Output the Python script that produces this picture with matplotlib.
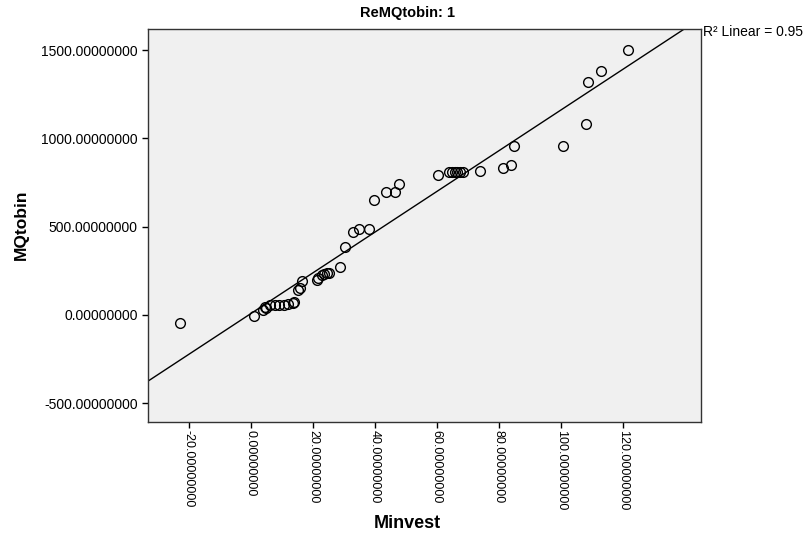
import numpy as np
import matplotlib
matplotlib.use("Agg")
import matplotlib.pyplot as plt
from matplotlib.ticker import FormatStrFormatter

plt.rcParams['font.family'] = ['Liberation Sans', 'DejaVu Sans']

# Minvest vs MQtobin
minvest = [-23.0, 1.0, 3.9, 4.5, 5.0, 6.1, 7.7, 9.0, 10.6, 11.9, 13.5, 13.9,
           15.2, 15.8, 16.5, 21.3, 21.6, 22.9, 23.5, 24.5, 25.2, 28.7, 30.3,
           32.9, 34.8, 38.0, 39.7, 43.5, 46.5, 47.8, 60.3, 63.9, 64.8, 65.8,
           66.5, 67.4, 68.3, 73.9, 81.3, 83.9, 84.8, 100.6, 108.0, 108.7,
           112.9, 121.6]
mqtobin = [-45, -6, 28, 45, 40, 57, 57, 57, 57, 60, 70, 72,
           141, 153, 192, 198, 209, 226, 232, 238, 238, 272, 385,
           470, 487, 487, 651, 696, 696, 741, 795, 809, 809, 809,
           809, 809, 809, 815, 832, 849, 956, 956, 1081, 1319,
           1381, 1500]

x_ticks = [-20, 0, 20, 40, 60, 80, 100, 120]
y_ticks = [-500, 0, 500, 1000, 1500]
r2_text = "R\u00b2 Linear = 0.95"


def main():
    fig = plt.figure(figsize=(8.06, 5.33), dpi=100)
    ax = fig.add_axes([0.1836, 0.2083, 0.686, 0.7373])
    ax.set_facecolor('#f0f0f0')

    ax.plot(minvest, mqtobin, linestyle='none', marker='o', markersize=7,
            markerfacecolor='none', markeredgecolor='black',
            markeredgewidth=1.0)

    # linear fit over the whole x range
    slope, icpt = np.polyfit(minvest, mqtobin, 1)
    xl = np.array([-40, 160])
    ax.plot(xl, icpt + slope * xl, color='black', linewidth=1.0)

    ax.set_xlim(-33.2, 145.2)
    ax.set_ylim(-606, 1619)
    ax.set_xticks(x_ticks)
    ax.set_yticks(y_ticks)
    ax.xaxis.set_major_formatter(FormatStrFormatter('%.8f'))
    ax.yaxis.set_major_formatter(FormatStrFormatter('%.8f'))
    ax.tick_params(direction='out', length=4, width=1, labelsize=10,
                   top=False, right=False)
    ax.tick_params(axis='x', labelsize=9, pad=2)
    for lbl in ax.get_xticklabels():
        lbl.set_rotation(270)
        lbl.set_va('top')
        lbl.set_ha('center')
    for sp in ax.spines.values():
        sp.set_linewidth(1.0)
        sp.set_color('#333333')

    fig.text(0.505, 0.975, "ReMQtobin: 1", ha='center', va='center',
             fontsize=10.5, fontweight='bold')
    fig.text(0.872, 0.94, r2_text, ha='left', va='center', fontsize=10)
    fig.text(0.505, 0.018, "Minvest", ha='center', va='center',
             fontsize=13, fontweight='bold')
    fig.text(0.026, 0.578, "MQtobin", ha='center', va='center',
             rotation=90, fontsize=12.5, fontweight='bold')

    fig.savefig('out.png', dpi=100)
    plt.close('all')


if __name__ == '__main__':
    main()
